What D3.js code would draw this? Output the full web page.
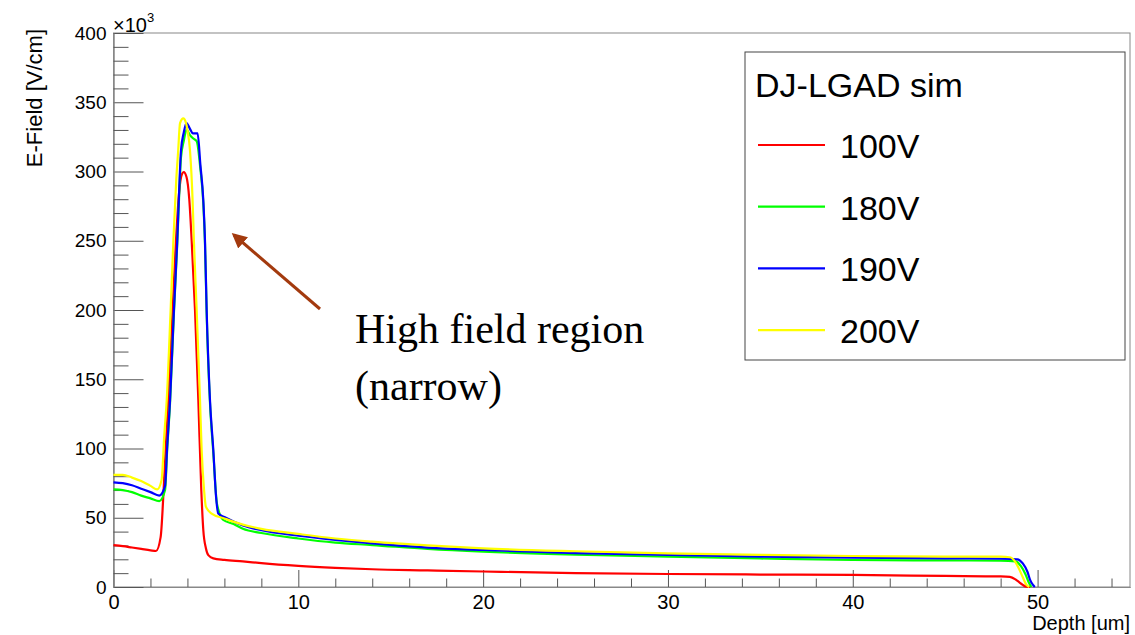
<!DOCTYPE html>
<html>
<head>
<meta charset="utf-8">
<script src="https://cdn.jsdelivr.net/npm/d3@7"></script>
<style>
  html, body { margin: 0; padding: 0; background: #fff; }
  svg { display: block; }
</style>
</head>
<body>
<svg id="chart" width="1135" height="635"></svg>
<script>
// ---------------- data (E-field in units of 10^3 V/cm, depth in um) ----------------
const seriesNames = ["100V", "180V", "190V", "200V"];
const seriesColors = ["#ff0000", "#00ff00", "#0000ff", "#ffff00"];

const depth100 = [0, 0.5, 1.0, 1.5, 2.0, 2.3, 2.55, 2.75, 2.96, 3.2, 3.38, 3.55, 3.7, 3.8, 3.95, 4.1, 4.23, 4.41, 4.59, 4.75, 4.86, 5.0, 5.13, 5.4, 6, 7, 8, 10, 12, 14, 17, 20, 25, 30, 35, 40, 45, 48, 48.5, 48.8, 49.0, 49.2, 49.4, 49.6];
const field100 = [30.3, 29.5, 28.5, 27.5, 26.5, 26, 36, 80, 135, 200, 250, 285, 298, 299.5, 296, 280, 250, 200, 135, 70, 41, 28, 23, 20.7, 19.6, 18.5, 17.2, 15.2, 13.8, 12.8, 12, 11.2, 10, 9.4, 9, 8.7, 8, 7.6, 7.3, 5.5, 3.5, 1.5, 0.2, 0];

const depth180 = [0, 0.5, 1.0, 1.5, 2.0, 2.48, 2.79, 2.9, 3.06, 3.27, 3.45, 3.55, 3.65, 3.8, 3.95, 4.15, 4.3, 4.5, 4.7, 4.86, 4.95, 5.04, 5.22, 5.4, 5.6, 5.94, 6.5, 7, 8, 10, 12, 14, 17, 20, 25, 30, 35, 40, 45, 48, 48.8, 49.1, 49.35, 49.5, 49.66];
const field180 = [70.5, 70, 68.5, 66, 64, 62, 70, 98, 133, 198, 248, 282, 310, 322, 330, 326, 324, 322, 302, 277, 248, 198, 133, 97, 60, 48.4, 45.5, 42, 39, 35, 32, 30.3, 27.5, 25.5, 23.3, 21.9, 20.6, 19.5, 19.2, 19, 18.5, 15, 9, 4, 0];

const depth190 = [0, 0.5, 1.0, 1.5, 2.0, 2.48, 2.79, 2.9, 3.06, 3.27, 3.45, 3.55, 3.65, 3.8, 3.95, 4.13, 4.3, 4.55, 4.7, 4.86, 4.95, 5.04, 5.22, 5.4, 5.55, 5.67, 6, 7, 8, 10, 12, 14, 17, 20, 25, 30, 35, 40, 45, 48, 48.9, 49.2, 49.45, 49.6, 49.75, 49.85];
const field190 = [75.6, 75, 73.5, 71, 68.5, 66, 73, 100, 135, 200, 250, 285, 315, 328, 335, 331, 327.5, 327.5, 305, 279, 250, 200, 135, 99, 65, 53, 50.5, 44.5, 41, 37, 34, 31.5, 28.5, 26.7, 24.5, 23.1, 22, 21.2, 20.7, 20.4, 20, 17, 11, 5, 1.5, 0];

const depth200 = [0, 0.5, 1.0, 1.5, 2.0, 2.37, 2.6, 2.75, 2.88, 3.09, 3.24, 3.4, 3.5, 3.6, 3.78, 3.9, 4.0, 4.14, 4.28, 4.35, 4.5, 4.68, 4.77, 4.9, 5.0, 5.31, 6, 7, 8, 10, 12, 14, 17, 20, 25, 30, 35, 40, 45, 48, 48.5, 48.8, 49.0, 49.2, 49.4, 49.55];
const field200 = [80.9, 81, 79, 76.5, 73, 70.5, 77, 110, 135, 200, 250, 295, 315, 335, 338.4, 336, 330, 315, 279, 250, 200, 135, 99, 70, 58, 53, 49.5, 45, 42, 38.3, 35, 32.7, 30, 27.9, 25.8, 24.3, 23.2, 22.4, 22, 21.9, 21.5, 18, 13, 7, 1.5, 0];

const xMajorTicks = [0, 10, 20, 30, 40, 50];
const yMajorTicks = [0, 50, 100, 150, 200, 250, 300, 350, 400];

// ---------------- layout ----------------
const svg = d3.select("#chart");
const L = 113.5, R = 1130, T = 33, B = 587;
const x = d3.scaleLinear().domain([0, 55]).range([L, R]);
const y = d3.scaleLinear().domain([0, 400]).range([B, T]);

const xMinor = d3.range(0, 55.01, 2).filter(v => !xMajorTicks.includes(v));
const yMinor = d3.range(0, 400.01, 10).filter(v => !yMajorTicks.includes(v));

const font = "'Liberation Sans', Arial, Helvetica, sans-serif";

// frame
svg.append("rect").attr("x", L).attr("y", T).attr("width", R - L).attr("height", B - T)
  .attr("fill", "none").attr("stroke", "#888").attr("stroke-width", 1);

// x axis
const gx = svg.append("g").attr("transform", `translate(0,${B})`);
gx.call(d3.axisBottom(x).tickValues(xMajorTicks).tickSizeInner(-17).tickSizeOuter(0).tickPadding(8).tickFormat(d3.format("d")));
const gxm = svg.append("g").attr("transform", `translate(0,${B})`);
gxm.call(d3.axisBottom(x).tickValues(xMinor).tickSizeInner(-8.5).tickSizeOuter(0).tickFormat(""));
[gx, gxm].forEach(g => {
  g.select(".domain").attr("stroke", "#888");
  g.selectAll(".tick line").attr("stroke", "#555");
});
gx.selectAll(".tick text").attr("font-family", font).attr("font-size", 20).attr("fill", "#000");

// y axis
const gy = svg.append("g").attr("transform", `translate(${L},0)`);
gy.call(d3.axisLeft(y).tickValues(yMajorTicks).tickSizeInner(-30).tickSizeOuter(0).tickPadding(7).tickFormat(d3.format("d")));
const gym = svg.append("g").attr("transform", `translate(${L},0)`);
gym.call(d3.axisLeft(y).tickValues(yMinor).tickSizeInner(-15).tickSizeOuter(0).tickFormat(""));
[gy, gym].forEach(g => {
  g.select(".domain").attr("stroke", "#888");
  g.selectAll(".tick line").attr("stroke", "#555");
});
gy.selectAll(".tick text").attr("font-family", font).attr("font-size", 19).attr("fill", "#000");

// multiplier
const mult = svg.append("text").attr("x", 113).attr("y", 31.5)
  .attr("font-family", font).attr("font-size", 20).attr("fill", "#000");
mult.append("tspan").text("×10");
mult.append("tspan").attr("font-size", 13).attr("dy", -10).text("3");

// axis titles
svg.append("text").attr("transform", `translate(42,${T - 4}) rotate(-90)`)
  .attr("text-anchor", "end").attr("font-family", font).attr("font-size", 22).attr("fill", "#000")
  .text("E-Field [V/cm]");
svg.append("text").attr("x", 1130).attr("y", 630)
  .attr("text-anchor", "end").attr("font-family", font).attr("font-size", 20).attr("fill", "#000")
  .text("Depth [um]");

// curves
const series = [
  { name: seriesNames[0], color: seriesColors[0], d: depth100, v: field100 },
  { name: seriesNames[1], color: seriesColors[1], d: depth180, v: field180 },
  { name: seriesNames[2], color: seriesColors[2], d: depth190, v: field190 },
  { name: seriesNames[3], color: seriesColors[3], d: depth200, v: field200 }
];
const line = d3.line().x(p => x(p[0])).y(p => y(p[1])).curve(d3.curveMonotoneX);
series.forEach(s => {
  const pts = s.d.map((dv, i) => [dv, s.v[i]]);
  svg.append("path").datum(pts).attr("d", line)
    .attr("fill", "none").attr("stroke", s.color).attr("stroke-width", 2.2)
    .attr("stroke-linejoin", "round");
});

// legend
const lg = svg.append("g");
lg.append("rect").attr("x", 745).attr("y", 52).attr("width", 380).attr("height", 308)
  .attr("fill", "#fff").attr("stroke", "#444").attr("stroke-width", 1);
lg.append("text").attr("x", 755).attr("y", 97).attr("font-family", font).attr("font-size", 34)
  .attr("fill", "#000").text("DJ-LGAD sim");
series.forEach((s, i) => {
  const yy = 145 + i * 61.7;
  lg.append("line").attr("x1", 758).attr("x2", 825).attr("y1", yy).attr("y2", yy)
    .attr("stroke", s.color).attr("stroke-width", 2.2);
  lg.append("text").attr("x", 840).attr("y", yy + 13).attr("font-family", font).attr("font-size", 34)
    .attr("fill", "#000").text(s.name);
});

// annotation arrow + text
const defs = svg.append("defs");
defs.append("marker").attr("id", "arrowhead").attr("viewBox", "0 0 10 10")
  .attr("refX", 8).attr("refY", 5).attr("markerWidth", 5).attr("markerHeight", 5)
  .attr("orient", "auto").attr("markerUnits", "strokeWidth")
  .append("path").attr("d", "M0,0 L10,5 L0,10 z").attr("fill", "#a33a0e");
svg.append("line").attr("x1", 320).attr("y1", 309).attr("x2", 234).attr("y2", 235)
  .attr("stroke", "#a33a0e").attr("stroke-width", 3).attr("marker-end", "url(#arrowhead)");

const fontSerif = "'Liberation Serif', 'Times New Roman', serif";
svg.append("text").attr("x", 355).attr("y", 343).attr("font-family", fontSerif).attr("font-size", 42)
  .attr("fill", "#000").text("High field region");
svg.append("text").attr("x", 355).attr("y", 400).attr("font-family", fontSerif).attr("font-size", 42)
  .attr("fill", "#000").text("(narrow)");
</script>
</body>
</html>
